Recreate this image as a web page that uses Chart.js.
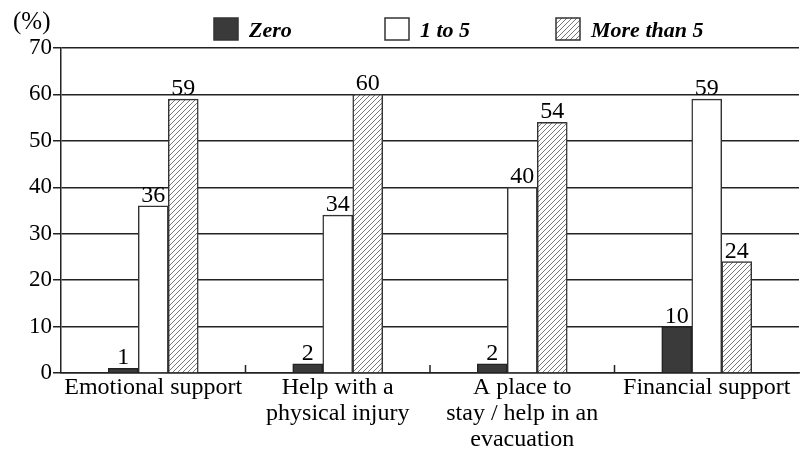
<!DOCTYPE html>
<html>
<head>
<meta charset="utf-8">
<script src="https://cdn.jsdelivr.net/npm/chart.js@4.4.1/dist/chart.umd.min.js"></script>
<style>
  html, body { margin: 0; padding: 0; background: #fff; }
</style>
</head>
<body>
<canvas id="supportChart" width="804" height="449"></canvas>
<script>
    // Дані
    const categories = [
        'Emotional support',
        ['Help with a', 'physical injury'],
        ['A place to', 'stay / help in an', 'evacuation'],
        'Financial support'
    ];
    const seriesNames = ['Zero', '1 to 5', 'More than 5'];
    const zeroValues = [1, 2, 2, 10];
    const oneToFiveValues = [36, 34, 40, 59];
    const moreThanFiveValues = [59, 60, 54, 24];
    const yMin = 0, yMax = 70, yStep = 10;

    const serif = '"Liberation Serif", "Times New Roman", serif';

    // Штрихування для "More than 5"
    function makeHatch() {
        const c = document.createElement('canvas');
        c.width = 5; c.height = 5;
        const g = c.getContext('2d');
        g.fillStyle = '#fff';
        g.fillRect(0, 0, 5, 5);
        g.strokeStyle = '#555';
        g.lineWidth = 0.8;
        g.beginPath();
        g.moveTo(-1, 6); g.lineTo(6, -1);
        g.moveTo(-1, 1); g.lineTo(1, -1);
        g.moveTo(4, 6); g.lineTo(6, 4);
        g.stroke();
        return g.createPattern(c, 'repeat');
    }
    const hatch = makeHatch();

    // Підписи значень, легенда, "(%)" і риски між категоріями
    const extras = {
        id: 'extras',
        afterDatasetsDraw(chart) {
            const ctx = chart.ctx;
            ctx.save();

            ctx.font = '24px ' + serif;
            ctx.fillStyle = '#000';
            ctx.textAlign = 'center';
            ctx.textBaseline = 'alphabetic';
            chart.data.datasets.forEach((ds, i) => {
                chart.getDatasetMeta(i).data.forEach((bar, j) => {
                    ctx.fillText(String(ds.data[j]), bar.x, bar.y - 4);
                });
            });

            const xs = chart.scales.x;
            const bottom = chart.chartArea.bottom;
            ctx.strokeStyle = '#222';
            ctx.lineWidth = 1.5;
            for (let i = 1; i < categories.length; i++) {
                const px = (xs.getPixelForValue(i - 1) + xs.getPixelForValue(i)) / 2;
                ctx.beginPath();
                ctx.moveTo(px, bottom);
                ctx.lineTo(px, bottom - 8);
                ctx.stroke();
            }

            ctx.textAlign = 'left';
            ctx.font = '25px ' + serif;
            ctx.fillText('(%)', 13, 29);

            // легенда
            const boxX = [214, 385, 556];
            ctx.font = 'bold italic 22px ' + serif;
            chart.data.datasets.forEach((ds, i) => {
                ctx.fillStyle = ds.backgroundColor;
                ctx.fillRect(boxX[i], 18, 24, 22);
                ctx.strokeStyle = '#333';
                ctx.lineWidth = 1.5;
                ctx.strokeRect(boxX[i], 18, 24, 22);
                ctx.fillStyle = '#000';
                ctx.fillText(ds.label, boxX[i] + 35, 37);
            });

            ctx.restore();
        }
    };

    const supportConfig = {
        type: 'bar',
        data: {
            labels: categories,
            datasets: [
                { label: seriesNames[0], data: zeroValues, backgroundColor: '#3a3a3a', borderColor: '#222', borderWidth: 1.5 },
                { label: seriesNames[1], data: oneToFiveValues, backgroundColor: '#ffffff', borderColor: '#333', borderWidth: 1.5 },
                { label: seriesNames[2], data: moreThanFiveValues, backgroundColor: hatch, borderColor: '#333', borderWidth: 1.5 }
            ]
        },
        options: {
            responsive: false,
            animation: false,
            barThickness: 30,
            layout: { padding: { top: 48, right: 5, left: 0, bottom: 0 } },
            plugins: {
                legend: { display: false },
                tooltip: { enabled: false }
            },
            scales: {
                x: {
                    grid: { display: false },
                    border: { display: true, color: '#222', width: 1.5 },
                    ticks: {
                        color: '#000',
                        padding: -6,
                        maxRotation: 0,
                        autoSkip: false,
                        font: { family: serif, size: 24, lineHeight: 1.08 }
                    },
                    afterFit(scale) { scale.height = 76; }
                },
                y: {
                    min: yMin,
                    max: yMax,
                    grid: { color: '#222', lineWidth: 1.5, tickLength: 8, drawTicks: true },
                    border: { display: true, color: '#222', width: 1.5 },
                    ticks: {
                        stepSize: yStep,
                        color: '#000',
                        padding: 1,
                        font: { family: serif, size: 23 }
                    },
                    afterFit(scale) { scale.width = 61; }
                }
            }
        },
        plugins: [extras]
    };

    const ctx1 = document.getElementById('supportChart').getContext('2d');
    new Chart(ctx1, supportConfig);
</script>
</body>
</html>
